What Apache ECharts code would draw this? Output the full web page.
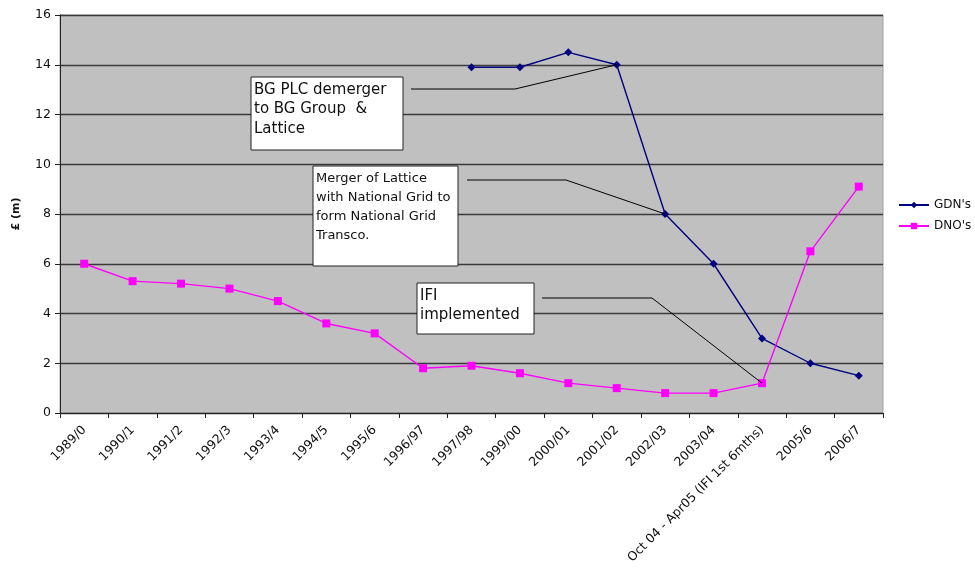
<!DOCTYPE html>
<html>
<head>
<meta charset="utf-8">
<script src="https://cdn.jsdelivr.net/npm/echarts@6/dist/echarts.min.js"></script>
<style>
  html, body { margin: 0; padding: 0; background: #ffffff; }
  #chart { width: 975px; height: 573px; }
</style>
</head>
<body>
<div id="chart"></div>
<script>
// categories (financial years)
const years = [
  "1989/0", "1990/1", "1991/2", "1992/3", "1993/4", "1994/5", "1995/6",
  "1996/97", "1997/98", "1999/00", "2000/01", "2001/02", "2002/03", "2003/04",
  "Oct 04 - Apr05 (IFI 1st 6mths)", "2005/6", "2006/7"
];

// GDN's - only from 1997/98
const gdn = [null, null, null, null, null, null, null, null,
  13.9, 13.9, 14.5, 14.0, 8.0, 6.0, 3.0, 2.0, 1.5];

// DNO's
const dno = [6.0, 5.3, 5.2, 5.0, 4.5, 3.6, 3.2, 1.8, 1.9, 1.6, 1.2, 1.0, 0.8, 0.8, 1.2, 6.5, 9.1];

const yTicks = { min: 0, max: 16, interval: 2 };

const FONT = "DejaVu Sans";

const chartDom = document.getElementById("chart");
const myChart = echarts.init(chartDom);

const option = {
  backgroundColor: "#FFFFFF",
  animation: false,
  textStyle: { fontFamily: FONT },
  grid: {
    left: 60,
    right: 92,
    top: 15,
    bottom: 160,
    show: true,
    backgroundColor: "#C0C0C0",
    borderColor: "#A0A0A0",
    borderWidth: 1
  },
  legend: {
    orient: "vertical",
    left: 893,
    top: 194,
    itemWidth: 30,
    itemHeight: 8,
    itemGap: 9,
    textStyle: { fontFamily: FONT, fontSize: 12, color: "#111" },
    data: ["GDN's", "DNO's"]
  },
  xAxis: {
    type: "category",
    data: years,
    boundaryGap: true,
    axisLine: { lineStyle: { color: "#222", width: 1 } },
    axisTick: { show: true, length: 5, lineStyle: { color: "#222" } },
    axisLabel: {
      rotate: 45,
      interval: 0,
      fontSize: 12.5,
      color: "#111",
      fontFamily: FONT,
      margin: 15
    },
    splitLine: { show: false }
  },
  yAxis: {
    type: "value",
    min: yTicks.min,
    max: yTicks.max,
    interval: yTicks.interval,
    name: "£ (m)",
    nameLocation: "middle",
    nameGap: 38,
    nameRotate: 90,
    nameTextStyle: { fontFamily: FONT, fontSize: 11, fontWeight: "bold", color: "#111" },
    axisLine: { show: true, lineStyle: { color: "#222", width: 1 } },
    axisTick: { show: true, length: 5, lineStyle: { color: "#222" } },
    axisLabel: { fontSize: 12.5, color: "#111", fontFamily: FONT, margin: 9 },
    splitLine: { show: true, lineStyle: { color: "#3a3a3a", width: 1.4 } }
  },
  series: [
    {
      name: "GDN's",
      type: "line",
      data: gdn,
      symbol: "diamond",
      symbolSize: 8,
      connectNulls: false,
      lineStyle: { color: "#000080", width: 1.4 },
      itemStyle: { color: "#000080" },
      z: 3
    },
    {
      name: "DNO's",
      type: "line",
      data: dno,
      symbol: "rect",
      symbolSize: 8,
      lineStyle: { color: "#FF00FF", width: 1.4 },
      itemStyle: { color: "#FF00FF" },
      z: 3
    }
  ]
};

myChart.setOption(option);

// annotation call-outs, anchored to data points
const notes = [
  {
    text: "BG PLC demerger\nto BG Group  &\nLattice",
    box: [251, 77, 152, 73], fontSize: 15, lineHeight: 19.5,
    path: [[411, 89], [515, 89]], series: 0, idx: 11
  },
  {
    text: "Merger of Lattice\nwith National Grid to\nform National Grid\nTransco.",
    box: [313, 166, 145, 100], fontSize: 13, lineHeight: 19,
    path: [[467, 180], [566, 180]], series: 0, idx: 12
  },
  {
    text: "IFI\nimplemented",
    box: [417, 283, 117, 51], fontSize: 15, lineHeight: 19.5,
    path: [[542, 298], [652, 298]], series: 1, idx: 14
  }
];

const graphics = [];
notes.forEach(function (n) {
  const data = n.series === 0 ? gdn : dno;
  const end = myChart.convertToPixel({ seriesIndex: n.series }, [n.idx, data[n.idx]]);
  graphics.push({
    type: "polyline",
    shape: { points: n.path.concat([end]) },
    style: { stroke: "#000", lineWidth: 1, fill: null },
    z: 10
  });
  graphics.push({
    type: "rect",
    shape: { x: n.box[0], y: n.box[1], width: n.box[2], height: n.box[3] },
    style: { fill: "#FFFFFF", stroke: "#222", lineWidth: 1 },
    z: 10
  });
  graphics.push({
    type: "text",
    x: n.box[0] + 3,
    y: n.box[1] + 3,
    style: {
      text: n.text,
      fontFamily: FONT,
      fontSize: n.fontSize,
      lineHeight: n.lineHeight,
      fill: "#111"
    },
    z: 11
  });
});

myChart.setOption({ graphic: graphics });
</script>
</body>
</html>
